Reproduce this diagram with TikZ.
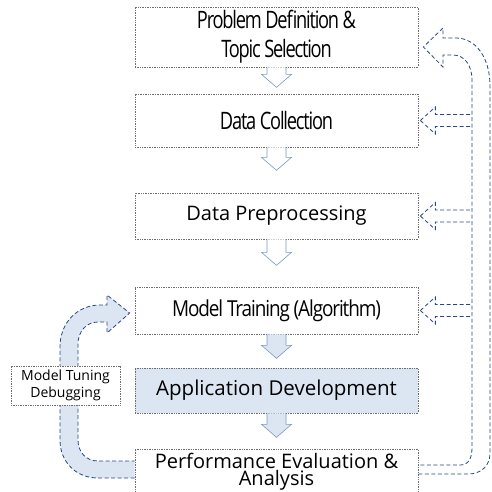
\documentclass[tikz,border=0pt]{standalone}
\usepackage{fontspec}
\setmainfont{Open Sans}
\newfontfamily\narrowfont[FakeStretch=0.76, LetterSpace=-5]{Open Sans}
\newfontfamily\trainfont[FakeStretch=0.86, LetterSpace=-5]{Open Sans}
\usetikzlibrary{calc}

\definecolor{feedblue}{RGB}{40,70,140}
\definecolor{paleblue}{RGB}{220,230,242}
\definecolor{arrowrim}{RGB}{125,152,192}
\definecolor{boxrim}{RGB}{110,110,110}

\tikzset{
    stagebox/.style={draw=boxrim, densely dotted, line width=0.7pt, fill=white, minimum width=283pt, inner sep=0pt, align=center},
    flowarrow/.style={draw=arrowrim, line width=0.6pt},
    feedback/.style={draw=feedblue, dash pattern=on 4pt off 2.5pt, line width=0.8pt},
}

\begin{document}
\begin{tikzpicture}[x=1pt, y=-1pt]
    \useasboundingbox (0,0) rectangle (492,492);
    \clip (0,0) rectangle (492,492);
    % stages
    \node[stagebox, minimum height=60pt, font=\narrowfont\fontsize{24}{29}\selectfont] (define) at (276.5,37) {Problem Definition \&\\Topic Selection};
    \node[stagebox, minimum height=53pt, font=\narrowfont\fontsize{24}{29}\selectfont] (collect) at (276.5,120.5) {Data Collection};
    \node[stagebox, minimum height=46pt, font=\fontsize{20}{24}\selectfont] (prep) at (276.5,216) {Data Preprocessing};
    \node[stagebox, minimum height=47pt, font=\trainfont\fontsize{22}{26}\selectfont] (train) at (276.5,310.5) {Model Training (Algorithm)};
    \node[stagebox, fill=paleblue, minimum height=45pt, font=\fontsize{20.5}{24}\selectfont] (app) at (276.5,390.5) {Application Development};
    \node[stagebox, minimum height=45pt, font=\fontsize{20}{17}\selectfont] (eval) at (276.5,471.5) {Performance Evaluation \&\\Analysis};
    % down arrows
    \foreach \from/\len/\shade in {define/20/white, collect/23/white, prep/26/white, train/24/paleblue, app/24/paleblue}
        \draw[flowarrow, fill=\shade] (\from.south) ++(-9.5,0) -- ++(0,\len-13) -- ++(-5.5,0) -- ++(15,13) -- ++(15,-13) -- ++(-5.5,0) -- ++(0,13-\len);
    % feedback to every stage
    \coordinate (rail) at (472,0);
    \coordinate (back) at ($(define.east)+(5,10)$);
    \draw[feedback] ($(eval.east)+(0,2.5)$) -- (468,474) .. controls (481,474) and (490,466) .. (490,453) -- (490,86) .. controls (490,58) and (476,38) .. (456,38) -- (443,38) -- (443,28) -- (back) -- (443,67) -- (443,55) -- (453,55) .. controls (465,55) and (472,66) .. (472,80) -- (472,447) .. controls (472,458) and (469,465) .. (460,465) -- ($(eval.east)+(0,-6.5)$);
    \foreach \stage in {collect, prep, train} {
        \draw[feedback] ($(\stage.east)+(2,0)$) coordinate (tip) -- ++(15,-13.5) -- ++(0,7.5) coordinate (u) -- (u -| rail);
        \draw[feedback] (tip) -- ++(15,13.5) -- ++(0,-7.5) coordinate (v) -- (v -| rail);
    }
    % tuning loop
    \coordinate (tunetip) at ($(train.west)+(-5,2.5)$);
    \draw[feedback, fill=paleblue] ($(eval.west)+(0,6.5)$) -- (98,478) .. controls (76,478) and (60,462) .. (60,440) -- (60,347) .. controls (60,322) and (78,305) .. (100,305) -- (107,305) -- (107,295) -- (tunetip) -- (107,333) -- (107,322) -- (98,322) .. controls (86,322) and (78,332) .. (78,344) -- (78,440) .. controls (78,452) and (86,461) .. (98,461) -- ($(eval.west)+(0,-10.5)$);
    \node[stagebox, minimum width=109pt, minimum height=39pt, font=\fontsize{14}{17}\selectfont] (tune) at (65.5,385.5) {Model Tuning\\Debugging};
\end{tikzpicture}
\end{document}
